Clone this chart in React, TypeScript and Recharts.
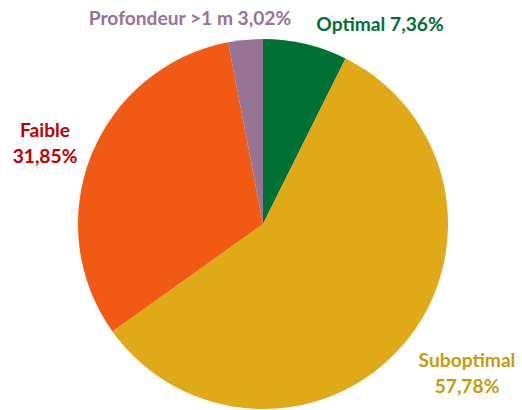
import React from "react";
import { PieChart, Pie, Cell } from "recharts";

const categories = ["Optimal", "Suboptimal", "Faible", "Profondeur >1 m"];
const values = [7.36, 57.78, 31.85, 3.02];
const valueLabels = ["7,36%", "57,78%", "31,85%", "3,02%"];

const sliceColors = ["#007035", "#DFA918", "#F05A14", "#977396"];
const labelColors = ["#007035", "#C99A10", "#C00000", "#977396"];
// label layout: offset from pie centre, and whether it's split over two lines
const labelLayout = [
  { dx: 117, dy: -193, twoLines: false },
  { dx: 204, dy: 143, twoLines: true },
  { dx: -218, dy: -87, twoLines: true },
  { dx: -73, dy: -199, twoLines: false },
];

const data = categories.map((name, i) => ({ name, value: values[i] }));

const FONT = "Lato, 'Open Sans', sans-serif";
const FONT_SIZE = 19.2;

function renderLabel(props: any) {
  const { cx, cy, index } = props;
  const l = labelLayout[index];
  const x = cx + l.dx;
  const y = cy + l.dy;
  const color = labelColors[index];
  if (l.twoLines) {
    return (
      <text
        x={x}
        y={y}
        fill={color}
        textAnchor="middle"
        fontFamily={FONT}
        fontWeight={700}
        fontSize={FONT_SIZE}
      >
        <tspan x={x} dy={0}>{categories[index]}</tspan>
        <tspan x={x} dy={25.5}>{valueLabels[index]}</tspan>
      </text>
    );
  }
  return (
    <text
      x={x}
      y={y}
      fill={color}
      textAnchor="middle"
      fontFamily={FONT}
      fontWeight={700}
      fontSize={FONT_SIZE}
    >
      {categories[index] + " " + valueLabels[index]}
    </text>
  );
}

export default function App() {
  return (
    <div style={{ position: "fixed", top: 0, left: 0, width: 522, height: 410, background: "#fff" }}>
      <PieChart width={522} height={410} margin={{ top: 0, right: 0, bottom: 0, left: 0 }}>
        <Pie
          data={data}
          dataKey="value"
          nameKey="name"
          cx={263}
          cy={224}
          outerRadius={185}
          startAngle={90}
          endAngle={-270}
          stroke="none"
          isAnimationActive={false}
          labelLine={false}
          label={renderLabel}
        >
          {data.map((d, i) => (
            <Cell key={d.name} fill={sliceColors[i]} />
          ))}
        </Pie>
      </PieChart>
    </div>
  );
}
